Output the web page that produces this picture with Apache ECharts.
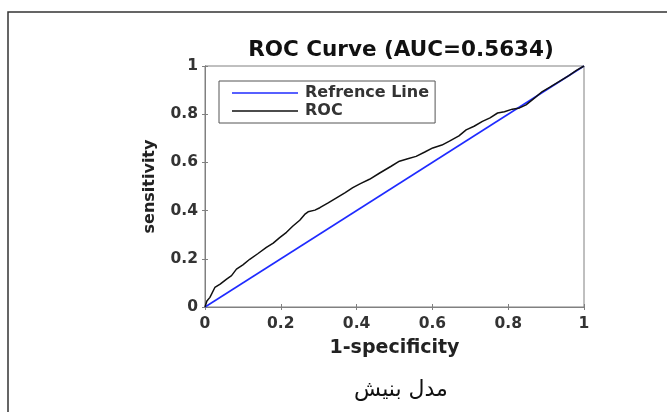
<!DOCTYPE html>
<html>
<head>
<meta charset="utf-8">
<script src="https://cdn.jsdelivr.net/npm/echarts@6/dist/echarts.min.js"></script>
<style>
html, body { margin: 0; padding: 0; background: #fff; }
#main { width: 667px; height: 412px; }
</style>
</head>
<body>
<div id="main"></div>
<script>
// ROC points
var fpr = [0, 0.005, 0.013, 0.026, 0.04, 0.057, 0.07, 0.083, 0.1, 0.118, 0.14, 0.162, 0.18, 0.197, 0.215, 0.232, 0.25, 0.263, 0.272, 0.29, 0.303, 0.325, 0.347, 0.37, 0.39, 0.41, 0.434, 0.461, 0.49, 0.513, 0.535, 0.557, 0.58, 0.601, 0.625, 0.645, 0.67, 0.689, 0.71, 0.732, 0.752, 0.772, 0.79, 0.811, 0.83, 0.847, 0.87, 0.89, 0.91, 0.934, 0.96, 0.98, 1];
var tpr = [0, 0.025, 0.04, 0.081, 0.095, 0.116, 0.13, 0.157, 0.175, 0.198, 0.222, 0.247, 0.265, 0.288, 0.31, 0.336, 0.36, 0.384, 0.395, 0.402, 0.412, 0.432, 0.453, 0.475, 0.495, 0.512, 0.53, 0.556, 0.583, 0.605, 0.615, 0.625, 0.643, 0.66, 0.672, 0.688, 0.71, 0.735, 0.75, 0.77, 0.785, 0.805, 0.81, 0.821, 0.826, 0.839, 0.868, 0.894, 0.912, 0.935, 0.96, 0.982, 1];
var refX = [0, 1];
var refY = [0, 1];
var seriesNames = ['Refrence Line', 'ROC'];

var pairs = function(xs, ys) {
	var out = [];
	for (var i = 0; i < xs.length; i++) out.push([xs[i], ys[i]]);
	return out;
};

var tickFont = {
	fontFamily: 'DejaVu Sans',
	fontWeight: 'bold',
	fontSize: 15.5,
	color: '#333'
};
var nameFont = {
	fontFamily: 'DejaVu Sans',
	fontWeight: 'bold',
	fontSize: 19,
	color: '#222'
};

var option = {
	backgroundColor: '#fff',
	animation: false,
	title: {
		text: 'ROC Curve (AUC=0.5634)',
		left: 396,
		textAlign: 'center',
		top: 34,
		textStyle: {
			fontFamily: 'DejaVu Sans',
			fontWeight: 'bold',
			fontSize: 21.5,
			color: '#111'
		}
	},
	legend: {
		orient: 'vertical',
		left: 219,
		top: 81,
		data: seriesNames,
		icon: 'rect',
		itemWidth: 66,
		itemHeight: 1.7,
		itemGap: 2,
		padding: [4, 6, 4, 13],
		borderColor: '#555',
		borderWidth: 1,
		textStyle: {
			fontFamily: 'DejaVu Sans',
			fontWeight: 'bold',
			fontSize: 16,
			lineHeight: 16,
			color: '#333',
			padding: [0, 0, 0, 2]
		}
	},
	grid: {
		left: 205,
		top: 66,
		width: 379,
		height: 241,
		show: true,
		borderColor: '#808080',
		borderWidth: 1
	},
	xAxis: [{
		type: 'value',
		min: 0,
		max: 1,
		interval: 0.2,
		name: '1-specificity',
		nameLocation: 'middle',
		nameGap: 32,
		nameTextStyle: nameFont,
		axisLine: { show: true, lineStyle: { color: '#808080' } },
		axisTick: { inside: true, length: 3, lineStyle: { color: '#808080' } },
		axisLabel: Object.assign({ margin: 9 }, tickFont),
		splitLine: { show: false }
	}, {
		type: 'value',
		position: 'top',
		min: 0,
		max: 1,
		interval: 0.2,
		axisLine: { show: true, lineStyle: { color: '#808080' } },
		axisTick: { inside: true, length: 3, lineStyle: { color: '#808080' } },
		axisLabel: { show: false },
		splitLine: { show: false }
	}],
	yAxis: [{
		type: 'value',
		min: 0,
		max: 1,
		interval: 0.2,
		name: 'sensitivity',
		nameLocation: 'middle',
		nameGap: 47,
		nameTextStyle: Object.assign({}, nameFont, { fontSize: 16 }),
		axisLine: { show: true, lineStyle: { color: '#808080' } },
		axisTick: { inside: true, length: 3, lineStyle: { color: '#808080' } },
		axisLabel: Object.assign({ margin: 7 }, tickFont),
		splitLine: { show: false }
	}, {
		type: 'value',
		position: 'right',
		min: 0,
		max: 1,
		interval: 0.2,
		axisLine: { show: true, lineStyle: { color: '#808080' } },
		axisTick: { inside: true, length: 3, lineStyle: { color: '#808080' } },
		axisLabel: { show: false },
		splitLine: { show: false }
	}],
	graphic: [{
		type: 'rect',
		shape: { x: 8, y: 12, width: 720, height: 460 },
		style: { fill: 'none', stroke: '#333', lineWidth: 1.5 },
		silent: true
	}, {
		type: 'text',
		x: 401,
		y: 390,
		style: {
			text: 'مدل بنیش',
			font: '22px "DejaVu Sans"',
			fill: '#111',
			align: 'center',
			verticalAlign: 'middle'
		}
	}],
	series: [{
		name: seriesNames[0],
		type: 'line',
		xAxisIndex: 0,
		yAxisIndex: 0,
		data: pairs(refX, refY),
		symbol: 'none',
		lineStyle: { color: '#1f2bff', width: 1.6 },
		itemStyle: { color: '#1f2bff' }
	}, {
		name: seriesNames[1],
		type: 'line',
		xAxisIndex: 0,
		yAxisIndex: 0,
		data: pairs(fpr, tpr),
		symbol: 'none',
		lineStyle: { color: '#111', width: 1.5 },
		itemStyle: { color: '#111' }
	}]
};

var chart = echarts.init(document.getElementById('main'));
chart.setOption(option);
</script>
</body>
</html>
